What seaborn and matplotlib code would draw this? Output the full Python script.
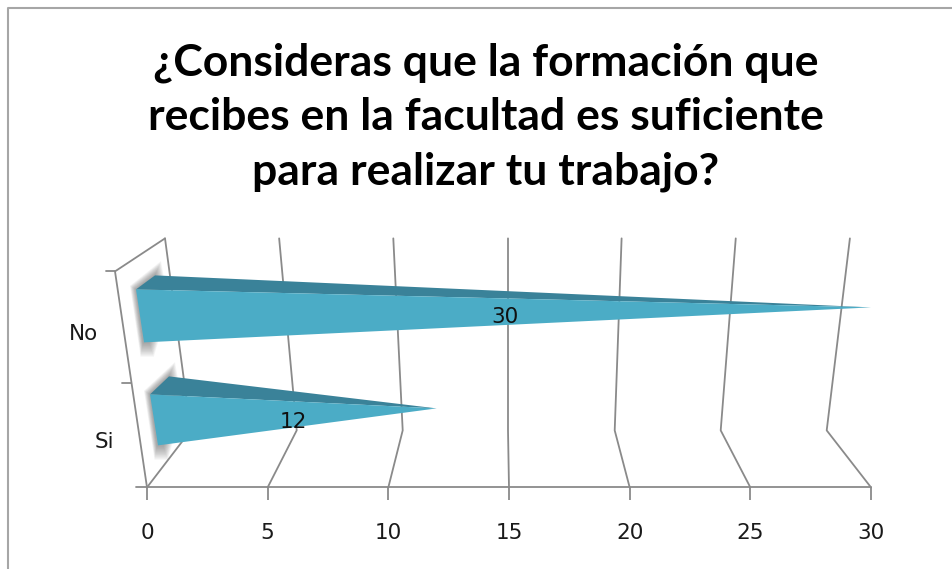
import numpy as np
import pandas as pd
import matplotlib
matplotlib.use("Agg")
import matplotlib.pyplot as plt
from matplotlib.patches import Polygon, Rectangle
import seaborn as sns

categories = ["No", "Si"]
values = [30, 12]
x_ticks = [0, 5, 10, 15, 20, 25, 30]
title = "¿Consideras que la formación que\nrecibes en la facultad es suficiente\npara realizar tu trabajo?"

W, H = 953, 569
sns.set_theme(style="white")
plt.rcParams["font.family"] = ["DejaVu Sans"]
fig = plt.figure(figsize=(W / 100, H / 100), dpi=100)

# axes: x in value units, y in category units (with 3D skew worked out in pixels)
X0, X1, YB, YT = 147, 871, 487, 238
ax = fig.add_axes([X0 / W, (H - YB) / H, (X1 - X0) / W, (YB - YT) / H])
df = pd.DataFrame({"respuesta": categories, "n": values})
sns.barplot(data=df, y="respuesta", x="n", order=categories, ax=ax, width=0.5,
            color="#4BACC6", saturation=1)
bars = [p for p in ax.patches if isinstance(p, Rectangle)]
ax.set_xlim(0, 30)
PX_X = (X1 - X0) / 30
PX_Y = 108.25
ax.set_ylim(1.486, 1.486 - (YB - YT) / PX_Y)


def px(x, y):
    return (x - X0) / PX_X, (y - 325.75) / PX_Y


GRID = "#8a8a8a"
LW = 1.3


def line(pts, **kw):
    xs, ys = zip(*[px(*p) for p in pts])
    ax.plot(xs, ys, color=GRID, lw=kw.pop("lw", LW), clip_on=False,
            solid_capstyle="round", zorder=kw.pop("zorder", 1), **kw)


# gridlines: floor segment, then back wall
for t in x_ticks:
    front = X0 + t * PX_X
    mid = 190.7 + t * 21.2
    top = 165 + t * 22.83
    if t == 15:
        mid, top = 508, 508
    line([(front, YB), (mid, 430), (top, 238)])

# floor line and side wall
line([(136, YB), (X1, YB)])
line([(X0, YB), (115, 271), (165, 238)])
line([(106, 271), (115, 271)])
line([(122, 383), (131, 383)])

# cones: each seaborn bar's length sets the tip of the cone
cone_px = {  # base corners front-top, front-bottom, back-top and tip height in pixels
    "No": ((136, 289), (144, 342), (155, 275), 307),
    "Si": ((150, 394), (158, 445), (169, 376), 408),
}
label_y = {"No": 316, "Si": 421}
label_dx = {"No": -0.15, "Si": 0.05}
for cat, bar in zip(categories, bars):
    v = bar.get_width()
    bar.remove()
    ft, fb, bt, tip_y = cone_px[cat]
    # soft shadow on the side wall around the cone base
    for g in range(12, 0, -1):
        shadow = [(ft[0] - 0.5 * g, ft[1] - 0.3 * g),
                  (bt[0] + 0.5 * g, bt[1] - 1.2 * g),
                  (bt[0] + 8 + 0.5 * g, bt[1] + 30),
                  (fb[0] + 5 + 0.4 * g, fb[1] + 1.2 * g),
                  (fb[0] - 1 - 0.2 * g, fb[1] + 1.2 * g)]
        ax.add_patch(Polygon([px(*p) for p in shadow], closed=True, fc="#505050",
                             ec="none", alpha=0.05, zorder=2, clip_on=False))
    tip = (v, px(0, tip_y)[1])
    ax.add_patch(Polygon([px(*bt), px(*ft), tip], closed=True, fc="#3A8299",
                         ec="none", zorder=3, clip_on=False))
    ax.add_patch(Polygon([px(*ft), px(*fb), tip], closed=True, fc="#4BACC6",
                         ec="none", zorder=4, clip_on=False))
    ax.text(v / 2 + label_dx[cat], px(0, label_y[cat] + 1)[1], f"{int(v)}", ha="center",
            va="center", fontsize=15.5, color="#101010", zorder=6)

# axes cosmetics
sns.despine(ax=ax, left=True, bottom=True, top=True, right=True)
ax.set_xlabel("")
ax.set_ylabel("")
ax.patch.set_alpha(0)
ax.set_xticks(x_ticks, [str(t) for t in x_ticks])
ax.tick_params(axis="x", bottom=True, length=9, width=LW, color=GRID, labelsize=15.5,
               labelcolor="#1a1a1a")
ax.set_yticks([0.05, 1.055], categories)
ax.tick_params(axis="y", length=0, labelsize=15.5, labelcolor="#1a1a1a")
for tick, pad in zip(ax.yaxis.get_major_ticks(), [35, 24]):
    tick.set_pad(pad)
for tick in ax.xaxis.get_major_ticks():
    tick.set_pad(17)

# title
fig.text(486 / W, 1 - 117 / H, title, ha="center", va="center", fontsize=32,
         fontweight="bold", family="Lato", color="black", linespacing=1.43)

# outer chart frame
fr = fig.add_axes([0, 0, 1, 1], zorder=-1)
fr.set_xlim(0, W)
fr.set_ylim(H, 0)
fr.axis("off")
fr.plot([8, 8, W], [H, 8, 8], color="#a6a6a6", lw=1.5)

fig.savefig("out.png", dpi=100)
